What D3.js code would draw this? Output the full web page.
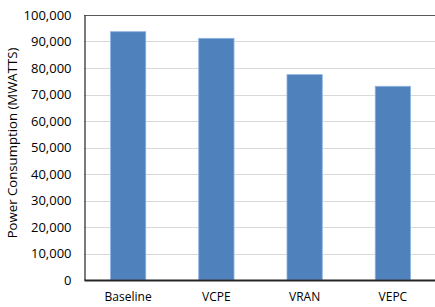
<!DOCTYPE html>
<html>
<head>
<meta charset="utf-8">
<script src="https://cdn.jsdelivr.net/npm/d3@7"></script>
<style>
  body { margin: 0; background: #fff; }
  svg text { font-family: "Open Sans", "Noto Sans", sans-serif; fill: #000; }
</style>
</head>
<body>
<div id="chart"></div>
<script>
// data
var categories = ["Baseline", "VCPE", "VRAN", "VEPC"];
var powerValues = [93700, 91200, 77500, 73100];
var yTicks = [0, 10000, 20000, 30000, 40000, 50000, 60000, 70000, 80000, 90000, 100000];
var yTitle = "Power Consumption (MWATTS)";

// size
var svgW = 435, svgH = 307;
var plot = {left: 84, right: 437, top: 15, bottom: 280};

var svg = d3.select("#chart").append("svg")
    .attr("width", svgW).attr("height", svgH);

var xScale = d3.scaleBand()
    .domain(categories)
    .range([plot.left, plot.right])
    .paddingInner(0.6)
    .paddingOuter(0.3);

var yScale = d3.scaleLinear()
    .domain([0, 100000])
    .range([plot.bottom, plot.top]);

// gridlines
svg.append("g")
    .selectAll("line")
    .data(yTicks.filter(function(d){ return d > 0 && d < 100000; }))
    .enter().append("line")
    .attr("x1", plot.left).attr("x2", plot.right)
    .attr("y1", function(d){ return Math.round(yScale(d)) + 0.5; })
    .attr("y2", function(d){ return Math.round(yScale(d)) + 0.5; })
    .attr("stroke", "#d9d9d9").attr("stroke-width", 1);

// top frame line
svg.append("line")
    .attr("x1", plot.left).attr("x2", plot.right)
    .attr("y1", yScale(100000) + 0.5).attr("y2", yScale(100000) + 0.5)
    .attr("stroke", "#595959").attr("stroke-width", 1.2);

// bars
svg.append("g")
    .selectAll("rect")
    .data(categories)
    .enter().append("rect")
    .attr("x", function(d){ return xScale(d); })
    .attr("y", function(d, i){ return yScale(powerValues[i]); })
    .attr("width", xScale.bandwidth())
    .attr("height", function(d, i){ return yScale(0) - yScale(powerValues[i]); })
    .attr("fill", "#4f81bd")
    .attr("stroke", "#8eb4e3")
    .attr("stroke-width", 0.8);

// y axis
var yAxis = svg.append("g")
    .attr("transform", "translate(" + (plot.left + 0.5) + ",0)")
    .call(d3.axisLeft(yScale).tickValues(yTicks).tickSize(0).tickPadding(13)
        .tickFormat(d3.format(",")));
yAxis.select(".domain").attr("stroke", "#333").attr("stroke-width", 1.3);
yAxis.selectAll("text").attr("font-size", 13).attr("font-family", "Open Sans, sans-serif");

// x axis
var xAxis = svg.append("g")
    .attr("transform", "translate(0," + plot.bottom + ")")
    .call(d3.axisBottom(xScale).tickSize(0).tickPadding(12));
xAxis.select(".domain").attr("stroke", "#262626").attr("stroke-width", 2);
xAxis.selectAll("text").attr("font-size", 12).attr("font-family", "Open Sans, sans-serif");

// y title
svg.append("text")
    .attr("transform", "translate(17,143) rotate(-90)")
    .attr("text-anchor", "middle")
    .attr("font-size", 13.2)
    .text(yTitle);
</script>
</body>
</html>
